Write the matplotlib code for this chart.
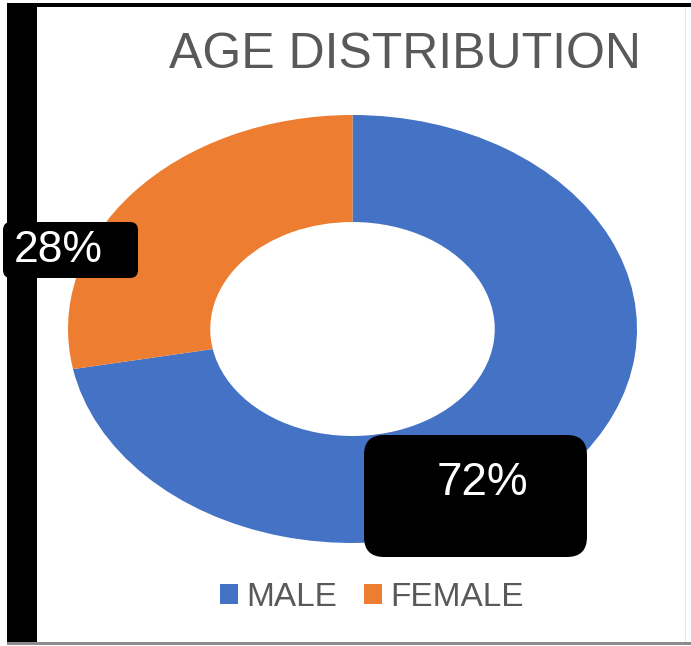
import matplotlib
matplotlib.use("Agg")
import matplotlib.pyplot as plt
from matplotlib.patches import FancyBboxPatch, Rectangle
from matplotlib.transforms import IdentityTransform

# Chart data
categories = ["MALE", "FEMALE"]
shares = [72, 28]
colors = ["#4472C4", "#ED7D31"]
title = "AGE DISTRIBUTION"

W, H = 691, 646
plt.rcParams["font.family"] = ["Liberation Sans", "DejaVu Sans"]
fig = plt.figure(figsize=(W / 100, H / 100), dpi=100)
fig.patch.set_facecolor("white")
px = IdentityTransform()


def rect(x0, y0, x1, y1, **kw):
    """Rectangle in top-down pixel coordinates."""
    return Rectangle((x0, H - y1), x1 - x0, y1 - y0, transform=px, **kw)


def rbox(x0, y0, x1, y1, r, **kw):
    """Rounded box in top-down pixel coordinates."""
    return FancyBboxPatch((x0, H - y1), x1 - x0, y1 - y0,
                          boxstyle=f"round,pad=0,rounding_size={r}",
                          transform=px, **kw)


# Donut (stretched horizontally)
ax = fig.add_axes([68 / W, 1 - 543 / H, 569 / W, 428 / H])
wedges, _ = ax.pie(shares, colors=colors, startangle=90, counterclock=False,
                   radius=1, wedgeprops=dict(width=0.5, linewidth=0))
ax.set_aspect("auto")
ax.set_xlim(-1, 1)
ax.set_ylim(-1, 1)
ax.axis("off")

# Title
fig.text(405, H - 68, title, transform=px, ha="center", va="baseline",
         fontsize=36, color="#595959")

# Data labels on black rounded boxes
fig.add_artist(rbox(3, 222, 138, 278, 8, facecolor="black", edgecolor="none"))
fig.text(58, H - 262, f"{shares[1]}%", transform=px, ha="center",
         va="baseline", fontsize=32, color="white")
fig.add_artist(rbox(364, 435, 587, 557, 20, facecolor="black", edgecolor="none"))
fig.text(482, H - 495, f"{shares[0]}%", transform=px, ha="center",
         va="baseline", fontsize=33, color="white")

# Legend
fig.legend(wedges, categories, loc="center",
           bbox_to_anchor=(372 / W, 1 - 597 / H), ncol=2, frameon=False,
           fontsize=24, labelcolor="#595959", handlelength=0.55,
           handleheight=0.55, handletextpad=0.25, columnspacing=0.8)

# Frame around the graphic
fig.add_artist(rect(7, 3, 691, 7, facecolor="black", edgecolor="none"))
fig.add_artist(rect(7, 3, 37, 643, facecolor="black", edgecolor="none"))
fig.add_artist(rect(7, 642, 691, 645, facecolor="#8c8c8c", edgecolor="none"))
fig.add_artist(rect(685, 7, 686, 642, facecolor="#e6e6e6", edgecolor="none"))

fig.savefig("out.png", dpi=100)
